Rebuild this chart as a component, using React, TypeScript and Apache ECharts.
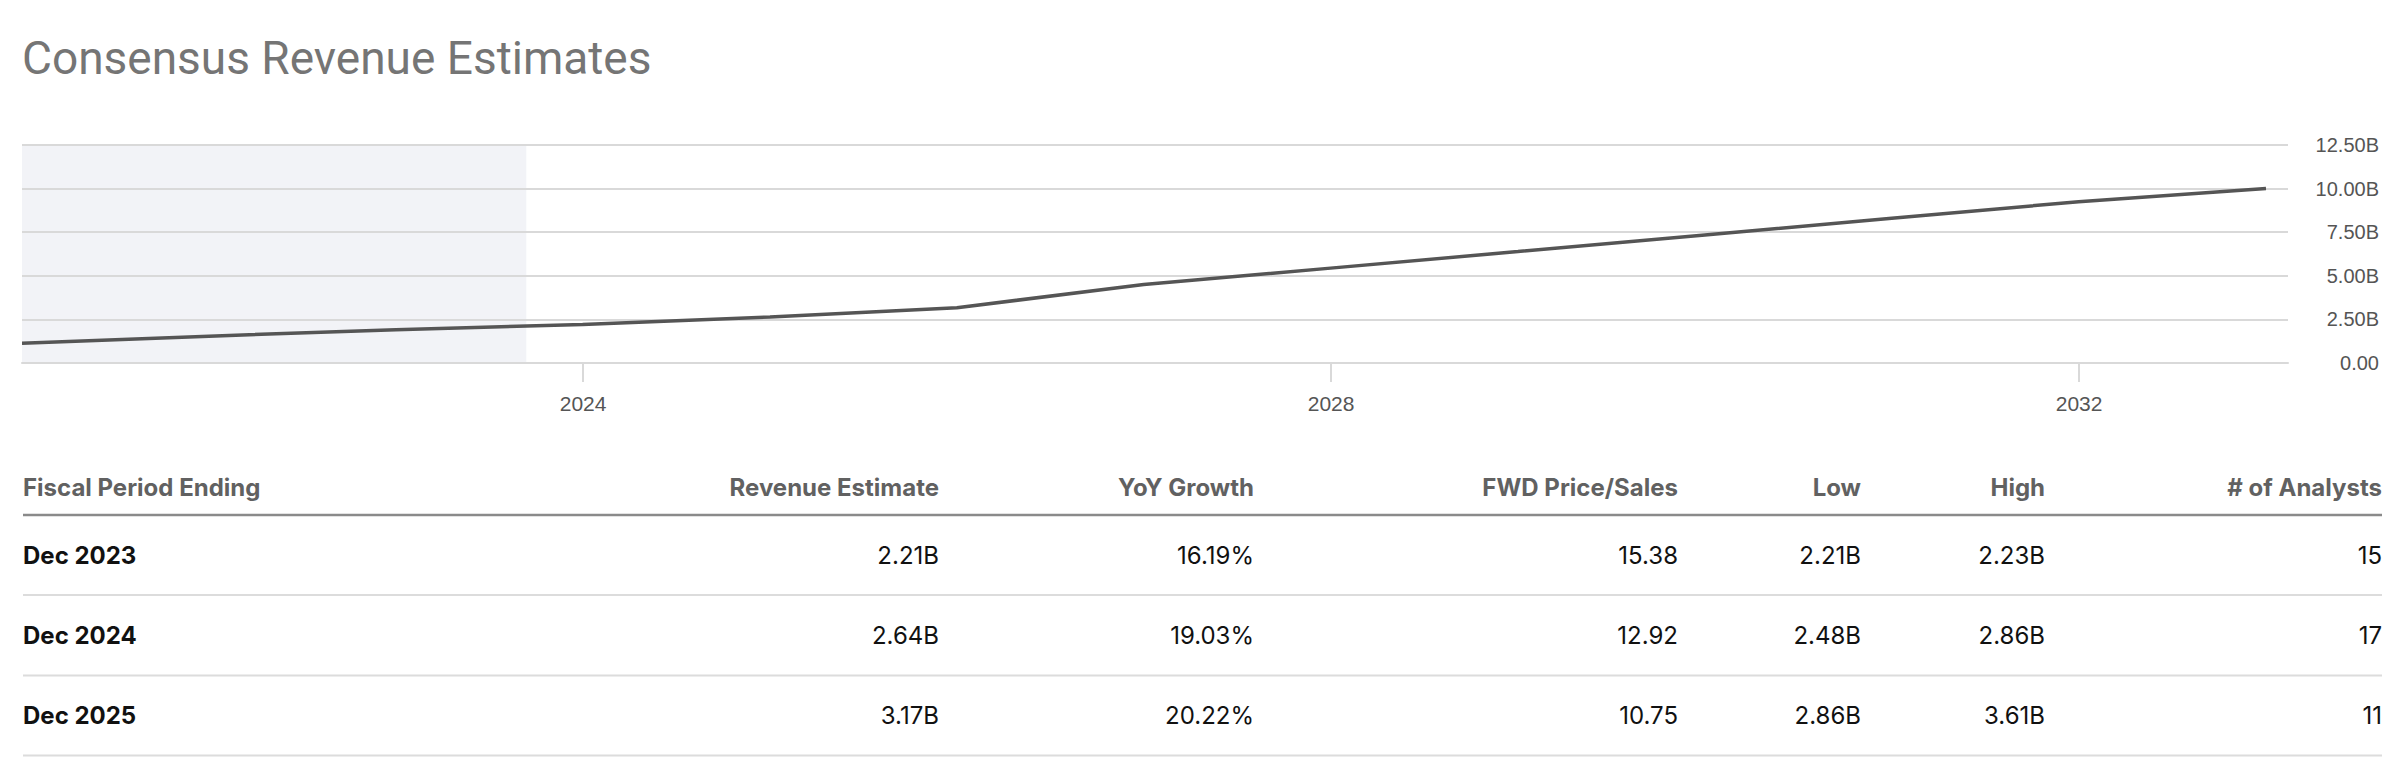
import { useEffect, useRef } from 'react';
import * as echarts from 'echarts';

// ---- chart data ----
const revenueDates = [
  '2020-12-31', '2021-12-31', '2022-12-31', '2023-12-31', '2024-12-31', '2025-12-31',
  '2026-12-31', '2027-12-31', '2028-12-31', '2029-12-31', '2030-12-31', '2031-12-31', '2032-12-31',
];
const revenueValuesB = [1.13, 1.54, 1.91, 2.21, 2.64, 3.17, 4.5, 5.44, 6.39, 7.34, 8.3, 9.25, 10.0];
const historicalRange = ['2020-12-31', '2023-09-12'];
const axisRange = ['2020-12-31', '2033-02-12'];
const xTickYears = [2024, 2028, 2032];
const yTickValuesB = [0, 2.5, 5, 7.5, 10, 12.5];
const yTickLabels = ['0.00', '2.50B', '5.00B', '7.50B', '10.00B', '12.50B'];

// ---- table data ----
const tableHeaders = ['Fiscal Period Ending', 'Revenue Estimate', 'YoY Growth', 'FWD Price/Sales', 'Low', 'High', '# of Analysts'];
const fiscalPeriods = ['Dec 2023', 'Dec 2024', 'Dec 2025'];
const revenueEstimates = ['2.21B', '2.64B', '3.17B'];
const yoyGrowth = ['16.19%', '19.03%', '20.22%'];
const fwdPriceSales = ['15.38', '12.92', '10.75'];
const lowEstimates = ['2.21B', '2.48B', '2.86B'];
const highEstimates = ['2.23B', '2.86B', '3.61B'];
const analystCounts = ['15', '17', '11'];

const ts = (s: string) => Date.parse(s + 'T00:00:00Z');

export default function App() {
  const ref = useRef<HTMLDivElement>(null);

  useEffect(() => {
    document.body.style.margin = '0';
    if (!ref.current) return;
    const chart = echarts.init(ref.current, undefined, { renderer: 'svg' });

    const tickTs = xTickYears.map((y) => Date.UTC(y, 0, 1));
    const axisFont = 'Liberation Sans';

    // table graphic
    const colRight = [0, 939, 1254, 1678, 1861, 2045, 2382];
    const tableLeft = 23;
    const headerY = 487;
    const rowYs = [555, 635, 715];
    const sepYs = [595, 675.5, 755.5];
    const elements: any[] = [];
    tableHeaders.forEach((h, i) => {
      elements.push({
        type: 'text',
        x: i === 0 ? tableLeft : colRight[i],
        y: headerY,
        style: {
          text: h,
          fill: '#616161',
          font: 'bold 24px Inter',
          align: i === 0 ? 'left' : 'right',
          verticalAlign: 'middle',
        },
      });
    });
    elements.push({
      type: 'line',
      shape: { x1: tableLeft, y1: 515, x2: 2382, y2: 515 },
      style: { stroke: '#8a8a8a', lineWidth: 2.5 },
    });
    const cols = [fiscalPeriods, revenueEstimates, yoyGrowth, fwdPriceSales, lowEstimates, highEstimates, analystCounts];
    fiscalPeriods.forEach((_, r) => {
      cols.forEach((col, c) => {
        elements.push({
          type: 'text',
          x: c === 0 ? tableLeft : colRight[c],
          y: rowYs[r],
          style: {
            text: col[r],
            fill: '#111111',
            font: (c === 0 ? 'bold ' : '') + '24px Inter',
            align: c === 0 ? 'left' : 'right',
            verticalAlign: 'middle',
          },
        });
      });
      elements.push({
        type: 'line',
        shape: { x1: tableLeft, y1: sepYs[r], x2: 2382, y2: sepYs[r] },
        style: { stroke: '#dcdcdc', lineWidth: 2 },
      });
    });

    const lineData = revenueDates.map((d, i) => [ts(d), revenueValuesB[i]]);

    chart.setOption({
      animation: false,
      backgroundColor: '#ffffff',
      title: {
        text: 'Consensus Revenue Estimates',
        left: 22,
        top: 35,
        padding: 0,
        textStyle: { fontSize: 46, fontWeight: 'normal', color: '#757575', fontFamily: 'Roboto' },
      },
      grid: { left: 22, right: 114, top: 145, height: 218, containLabel: false },
      xAxis: {
        type: 'value',
        min: ts(axisRange[0]),
        max: ts(axisRange[1]),
        z: 2,
        axisLine: { show: true, lineStyle: { color: '#d9d9d9', width: 2 } },
        axisTick: { show: true, customValues: tickTs, length: 19, lineStyle: { color: '#d9d9d9', width: 2 } },
        axisLabel: {
          customValues: tickTs,
          formatter: (v: number) => String(new Date(v + 86400000).getUTCFullYear()),
          fontSize: 21,
          color: '#555555',
          margin: 30,
          fontFamily: axisFont,
        },
        splitLine: { show: false },
      },
      yAxis: {
        type: 'value',
        position: 'right',
        min: 0,
        max: 12.5,
        interval: 2.5,
        z: 2,
        axisLine: { show: false },
        axisTick: { show: false },
        splitLine: { show: true, lineStyle: { color: '#d9d9d9', width: 2 } },
        axisLabel: {
          formatter: (v: number) => {
            const idx = yTickValuesB.findIndex((t) => Math.abs(t - v) < 1e-6);
            return idx >= 0 ? yTickLabels[idx] : '';
          },
          align: 'right',
          margin: 91,
          fontSize: 20,
          color: '#555555',
          fontFamily: axisFont,
        },
      },
      series: [
        {
          type: 'line',
          data: lineData,
          symbol: 'none',
          silent: true,
          z: 0,
          lineStyle: { opacity: 0 },
          markArea: {
            silent: true,
            z: 0,
            itemStyle: { color: '#f2f3f7' },
            data: [[{ xAxis: ts(historicalRange[0]) }, { xAxis: ts(historicalRange[1]) }]],
          },
        },
        {
          type: 'line',
          data: lineData,
          symbol: 'none',
          z: 3,
          lineStyle: { color: '#555555', width: 3.5 },
        },
      ],
      graphic: { elements },
    });

    return () => chart.dispose();
  }, []);

  return <div ref={ref} style={{ width: 2402, height: 758 }} />;
}
